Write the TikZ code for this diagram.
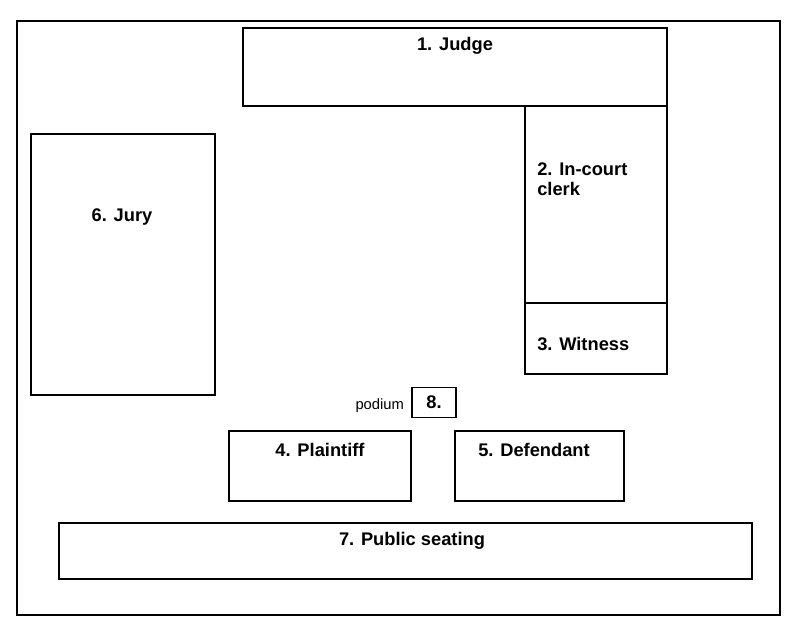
\documentclass[tikz,border=0pt]{standalone}
\usepackage{fontspec}
\setmainfont{Liberation Sans}
\usetikzlibrary{positioning}

\begin{document}
\begin{tikzpicture}[x = 0.025cm, y = -0.025cm,
        lbl/.style = {font=\fontsize{13}{14.5}\selectfont\bfseries, inner sep=0pt},
        small/.style = {font=\fontsize{10.5}{12}\selectfont, inner sep=0pt}]
        \useasboundingbox (0,0) rectangle (800,636);
        \draw[thick](17,21)rectangle(780,615);
        % benches
        \draw[thick](243,28)rectangle(667,106);
        \draw[thick](525,106)rectangle(667,303);
        \draw[thick](525,303)rectangle(667,374);
        \draw[thick](31,134)rectangle(215,395);
        \draw[thick](229,431)rectangle(411,501);
        \draw[thick](455,431)rectangle(624,501);
        \draw[thick](59,523)rectangle(752,579);
        % labels
        \node[lbl](judge)at(455,46){1. Judge};
        \node[lbl,anchor=west,align=left](clerk)at(537,179){2. In-court\\clerk};
        \node[lbl,anchor=west](witness)at(537,344){3. Witness};
        \node[lbl](jury)at(122,217){6. Jury};
        \node[lbl,draw,thick,minimum width=1.1cm,minimum height=0.73cm](podnum)at(434,402.5){8.};
        \node[small,left=0.18cm of podnum,yshift=-0.08cm](podium){podium};
        \node[lbl](plaintiff)at(320,450){4. Plaintiff};
        \node[lbl](defendant)at(534,450){5. Defendant};
        \node[lbl](public)at(412,541){7. Public seating};
\end{tikzpicture}
\end{document}
